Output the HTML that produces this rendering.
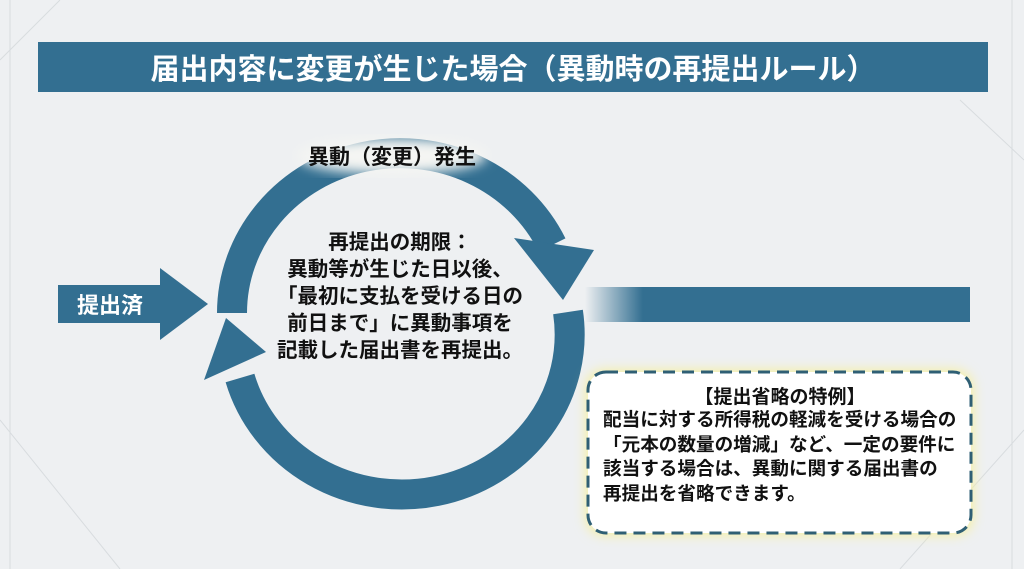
<!DOCTYPE html>
<html><head><meta charset="utf-8"><style>
body{margin:0;width:1024px;height:569px;overflow:hidden;background:#eef0f2;font-family:"Liberation Sans","Noto Sans CJK JP",sans-serif;}
.t{position:absolute;font-weight:bold;white-space:nowrap;}
</style></head><body>
<svg width="1024" height="569" style="position:absolute;left:0;top:0">
<defs><linearGradient id="g" x1="0" x2="1"><stop offset="0" stop-color="#336f91" stop-opacity="0"/><stop offset="0.15" stop-color="#336f91"/></linearGradient>
<filter id="gl"><feGaussianBlur stdDeviation="6"/></filter></defs>
<g stroke="#d8dcdf" stroke-width="1" fill="none">
<line x1="0" y1="60" x2="60" y2="0"/><line x1="0" y1="420" x2="120" y2="569"/><line x1="900" y1="569" x2="1024" y2="430"/><line x1="960" y1="100" x2="1024" y2="160"/>
<line x1="10" y1="0" x2="10" y2="569"/><line x1="1012" y1="0" x2="1012" y2="569"/></g>
<rect x="38" y="42" width="950" height="50" fill="#336f91"/>
<path d="M232 313 A168 160 0 0 1 552 245" stroke="#336f91" stroke-width="30" fill="none"/>
<polygon points="514,238 594,250 563,300" fill="#336f91"/>
<path d="M568 312 A168 160 0 0 1 240 378" stroke="#336f91" stroke-width="30" fill="none"/>
<polygon points="204,380 266,352 226,318" fill="#336f91"/>
<rect x="58" y="285" width="104" height="38" fill="#336f91"/>
<polygon points="160,268 208,304 160,340" fill="#336f91"/>
<rect x="585" y="287" width="385" height="35" fill="url(#g)"/>
<rect x="586" y="370" width="387" height="165" rx="18" fill="#f6f1a0" filter="url(#gl)"/>
<rect x="588" y="372" width="383" height="161" rx="18" fill="#fff" stroke="#2f5f74" stroke-width="3" stroke-dasharray="12 7"/>
<ellipse cx="392" cy="156" rx="95" ry="18" fill="#f4f5f3" filter="url(#gl)"/>
</svg>
<div class="t" style="left:38px;width:950px;top:46px;text-align:center;color:#fff;font-size:29px;">届出内容に変更が生じた場合（異動時の再提出ルール）</div>
<div class="t" style="left:290px;width:204px;top:141px;text-align:center;font-size:21px;color:#111">異動（変更）発生</div>
<div class="t" style="left:60px;width:100px;top:288px;text-align:center;font-size:22px;color:#fff">提出済</div>
<div class="t" style="left:250px;width:300px;top:229px;text-align:center;font-size:20.5px;line-height:27px;color:#111">再提出の期限：<br>異動等が生じた日以後、<br>「最初に支払を受ける日の<br>前日まで」に異動事項を<br>記載した届出書を再提出。</div>
<div class="t" style="left:590px;width:380px;top:382px;text-align:center;font-size:19px;color:#111">【提出省略の特例】</div>
<div class="t" style="left:603px;top:408px;font-size:18.6px;line-height:24.5px;color:#111">配当に対する所得税の軽減を受ける場合の<br>「元本の数量の増減」など、一定の要件に<br>該当する場合は、異動に関する届出書の<br>再提出を省略できます。</div>
</body></html>
